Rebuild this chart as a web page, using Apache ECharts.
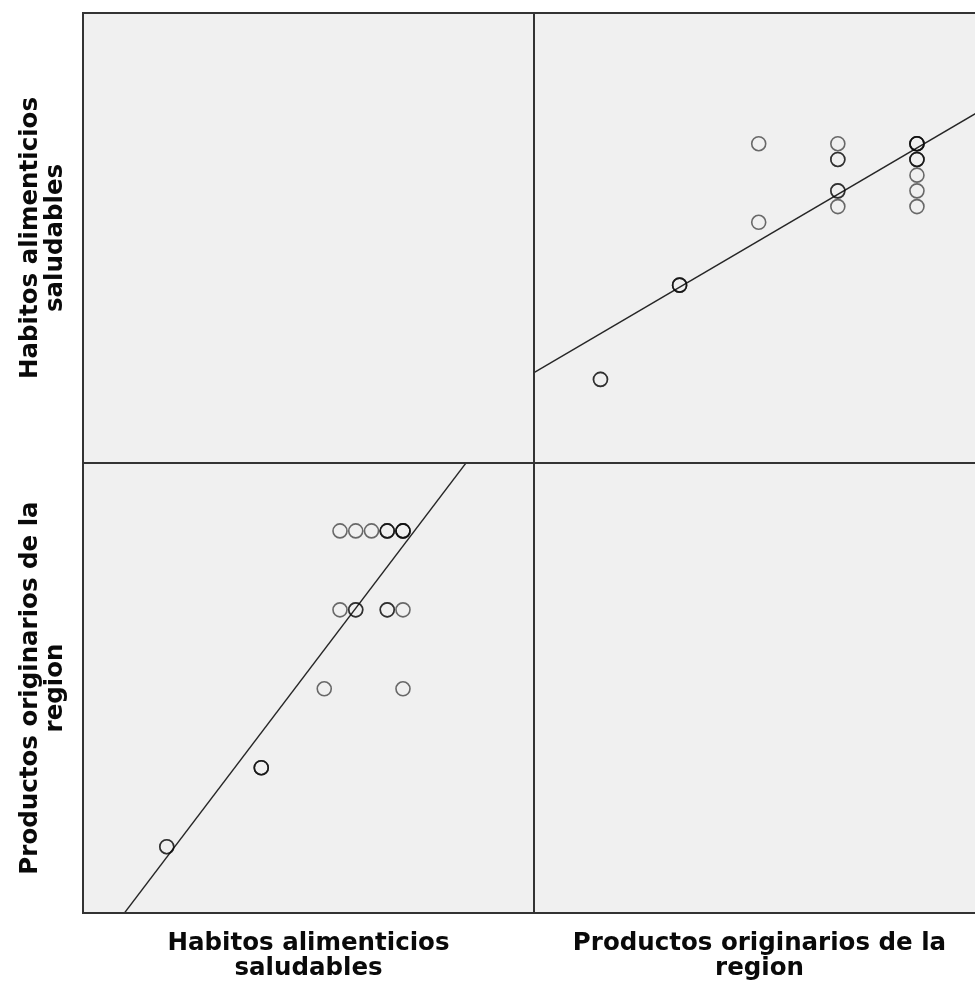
<!DOCTYPE html>
<html>
<head>
<meta charset="utf-8">
<script src="https://cdn.jsdelivr.net/npm/echarts@6/dist/echarts.min.js"></script>
<style>
  html, body { margin: 0; padding: 0; background: #ffffff; }
  #chart { width: 975px; height: 986px; }
</style>
</head>
<body>
<div id="chart"></div>
<script>
// Variable names shown on the matrix
const variableNames = ['Habitos alimenticios\nsaludables', 'Productos originarios de la\nregion'];

// One entry per respondent (same order in both arrays)
const habitos   = [5, 5, 11, 11, 11, 15, 20, 16, 17, 17, 19, 19, 20, 16, 17, 18, 19, 19, 19, 20, 20, 20, 20];
const productos = [1, 1, 2, 2, 2, 3, 3, 4, 4, 4, 4, 4, 4, 5, 5, 5, 5, 5, 5, 5, 5, 5, 5];

// Shared scale of each variable across the matrix
const habitosRange = [-0.32, 28.32];
const productosRange = [0.16, 5.86];

// Ordinary least squares fit of y on x
function fitLine(xs, ys) {
  const n = xs.length;
  const mx = xs.reduce((a, b) => a + b, 0) / n;
  const my = ys.reduce((a, b) => a + b, 0) / n;
  let sxy = 0, sxx = 0;
  for (let i = 0; i < n; i++) {
    sxy += (xs[i] - mx) * (ys[i] - my);
    sxx += (xs[i] - mx) * (xs[i] - mx);
  }
  const slope = sxy / sxx;
  return { slope, intercept: my - slope * mx };
}

function fitSegment(fit, range) {
  return range.map(x => [x, fit.intercept + fit.slope * x]);
}

const fitPonH = fitLine(habitos, productos);
const fitHonP = fitLine(productos, habitos);

const pointsHP = habitos.map((h, i) => [h, productos[i]]);
const pointsPH = productos.map((p, i) => [p, habitos[i]]);

// Panel geometry
const L = 83, T = 13, S = 451, H = 450;
const midX = L + S, midY = T + H;

const chart = echarts.init(document.getElementById('chart'), null, { renderer: 'canvas' });

const markerStyle = {
  color: 'rgba(0,0,0,0)',
  borderColor: 'rgba(10,10,10,0.74)',
  borderWidth: 1.6
};
const lineStyle = { color: '#262626', width: 1.4 };
const labelFont = {
  fontFamily: 'DejaVu Sans, sans-serif',
  fontWeight: 'bold',
  fontSize: 24.5,
  lineHeight: 25,
  fill: '#0a0a0a'
};

chart.setOption({
  backgroundColor: '#ffffff',
  animation: false,
  grid: [
    // Habitos (x) vs Productos (y)
    { left: L, top: midY, width: S, height: H, outerBoundsMode: 'none', containLabel: false },
    // Productos (x) vs Habitos (y); the right edge runs past the canvas
    { left: midX, top: T, width: S, height: H, outerBoundsMode: 'none', containLabel: false }
  ],
  xAxis: [
    { type: 'value', gridIndex: 0, min: habitosRange[0], max: habitosRange[1], show: false },
    { type: 'value', gridIndex: 1, min: productosRange[0], max: productosRange[1], show: false }
  ],
  yAxis: [
    { type: 'value', gridIndex: 0, min: productosRange[0], max: productosRange[1], show: false },
    { type: 'value', gridIndex: 1, min: habitosRange[0], max: habitosRange[1], show: false }
  ],
  graphic: [
    {
      type: 'rect', z: 0, silent: true,
      shape: { x: L, y: T, width: 2 * S, height: 2 * H },
      style: { fill: '#f0f0f0', stroke: null }
    },
    {
      type: 'rect', z: 100, silent: true,
      shape: { x: L, y: T, width: 2 * S, height: 2 * H },
      style: { fill: null, stroke: '#333333', lineWidth: 2 }
    },
    {
      type: 'line', z: 100, silent: true,
      shape: { x1: midX, y1: T, x2: midX, y2: T + 2 * H },
      style: { stroke: '#333333', lineWidth: 2 }
    },
    {
      type: 'line', z: 100, silent: true,
      shape: { x1: L, y1: midY, x2: L + 2 * S, y2: midY },
      style: { stroke: '#333333', lineWidth: 2 }
    },
    // Row labels
    {
      type: 'text', z: 100, x: 43, y: T + H / 2, rotation: Math.PI / 2,
      style: Object.assign({ text: variableNames[0], textAlign: 'center', textVerticalAlign: 'middle' }, labelFont)
    },
    {
      type: 'text', z: 100, x: 43, y: midY + H / 2, rotation: Math.PI / 2,
      style: Object.assign({ text: variableNames[1], textAlign: 'center', textVerticalAlign: 'middle' }, labelFont)
    },
    // Column labels
    {
      type: 'text', z: 100, x: L + S / 2, y: 956,
      style: Object.assign({ text: variableNames[0], textAlign: 'center', textVerticalAlign: 'middle' }, labelFont)
    },
    {
      type: 'text', z: 100, x: midX + S / 2, y: 956,
      style: Object.assign({ text: variableNames[1], textAlign: 'center', textVerticalAlign: 'middle' }, labelFont)
    }
  ],
  series: [
    {
      type: 'scatter', xAxisIndex: 0, yAxisIndex: 0, z: 5,
      symbol: 'circle', symbolSize: 14,
      itemStyle: markerStyle, data: pointsHP, silent: true
    },
    {
      type: 'line', xAxisIndex: 0, yAxisIndex: 0, z: 4, clip: true,
      showSymbol: false, lineStyle: lineStyle,
      data: fitSegment(fitPonH, habitosRange), silent: true
    },
    {
      type: 'scatter', xAxisIndex: 1, yAxisIndex: 1, z: 5,
      symbol: 'circle', symbolSize: 14,
      itemStyle: markerStyle, data: pointsPH, silent: true
    },
    {
      type: 'line', xAxisIndex: 1, yAxisIndex: 1, z: 4, clip: true,
      showSymbol: false, lineStyle: lineStyle,
      data: fitSegment(fitHonP, productosRange), silent: true
    }
  ]
});
</script>
</body>
</html>
